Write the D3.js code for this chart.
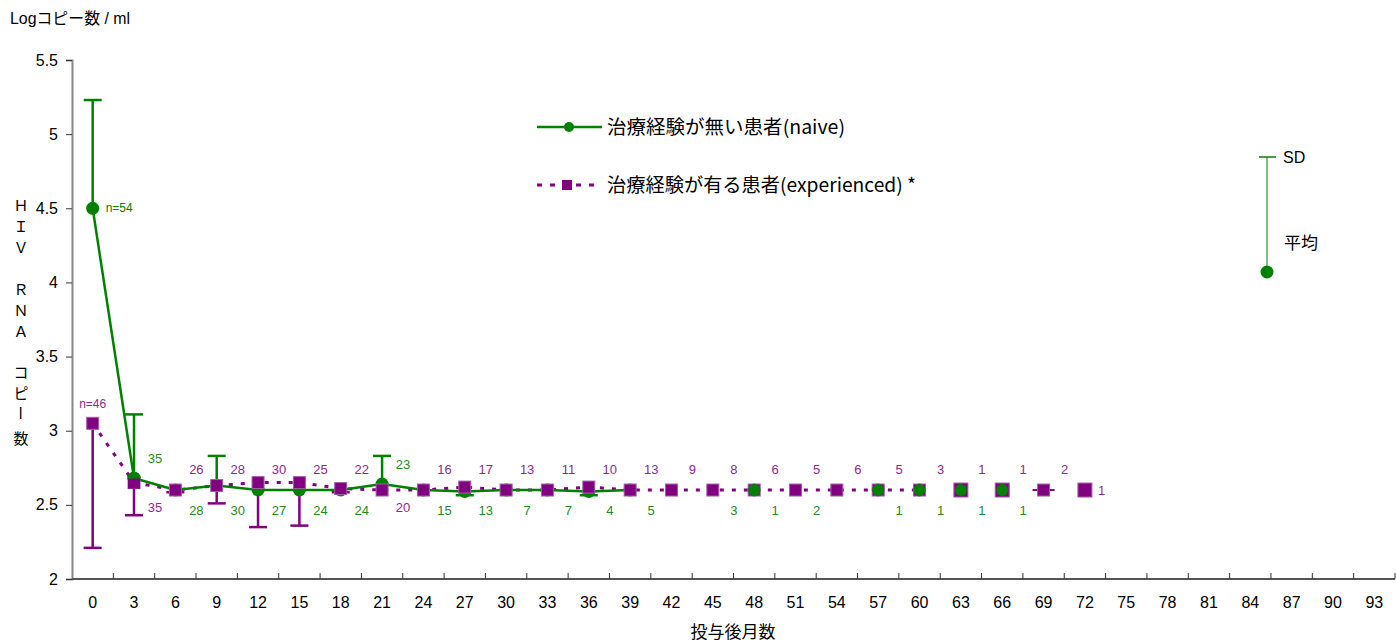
<!DOCTYPE html>
<html><head><meta charset="utf-8">
<script src="https://cdn.jsdelivr.net/npm/d3@7"></script>
<style>
html,body{margin:0;padding:0;background:#fff;}
svg{display:block;font-family:"Liberation Sans",Arial,"Noto Sans CJK JP",sans-serif;}
</style></head>
<body><svg id="c" width="1396" height="642"></svg>
<script>
// ---- data ----
const categories = d3.range(0, 94, 3);           // x-axis categories (months)
const yTicks = [2, 2.5, 3, 3.5, 4, 4.5, 5, 5.5];
const yTickLabels = ["2", "2.5", "3", "3.5", "4", "4.5", "5", "5.5"];
const months = d3.range(0, 73, 3);               // 0..72
const naiveMean = [4.5, 2.68, 2.60, 2.63, 2.60, 2.60, 2.60, 2.64, 2.60, 2.59, 2.60, 2.60, 2.59, 2.60,
                   null, null, 2.60, null, null, 2.60, 2.60, 2.60, 2.60, null, null];
const naiveSDUpper = [5.23, 3.11, null, 2.83, null, null, null, 2.83, null, null, null, null, null, null,
                      null, null, null, null, null, null, null, null, null, null, null];
const naiveSDLower = [null, null, null, null, null, null, null, null, null, 2.565, null, null, 2.565, null,
                      null, null, null, null, null, null, null, null, null, null, null];
const expMean = [3.05, 2.65, 2.60, 2.63, 2.65, 2.65, 2.61, 2.60, 2.60, 2.62, 2.60, 2.60, 2.62, 2.60,
                 2.60, 2.60, 2.60, 2.60, 2.60, 2.60, 2.60, 2.60, 2.60, 2.60, 2.60];
const expSDLower = [2.21, 2.43, 2.585, 2.51, 2.35, 2.36, 2.585, null, null, null, null, null, null, null,
                    null, null, null, null, null, null, null, null, null, null, null];
const naiveLineEnd = 39;
const expLineEnd = 60;
const expBigMarkers = [63, 66, 72];
// n labels
const naiveN = [54, 35, 28, 30, 27, 24, 24, 23, 15, 13, 7, 7, 4, 5, null, 3, 1, 2, null, 1, 1, 1, 1, null, null];
const expN   = [46, 35, 26, 28, 30, 25, 22, 20, 16, 17, 13, 11, 10, 13, 9, 8, 6, 5, 6, 5, 3, 1, 1, 2, 1];
const naiveLabelAbove = [3, 21];
const expLabelBelow = [3, 21];

const legendNames = ["治療経験が無い患者(naive)", "治療経験が有る患者(experienced)  *"];
const xTitle = "投与後月数";
const yUnit = "Logコピー数 / ml";
const yTitleChars = ["Ｈ", "Ｉ", "Ｖ", "", "Ｒ", "Ｎ", "Ａ", "", "コ", "ピ", "ー", "数"];

// ---- layout ----
const GREEN = "#008000", PURPLE = "#800080";
const JP = "'Noto Sans CJK JP',sans-serif";
const NARROW = "'Liberation Sans Narrow','Liberation Sans',Arial,sans-serif";
const svg = d3.select("#c");
const x = d3.scaleBand().domain(categories).range([72, 1395]).paddingInner(0).paddingOuter(0);
const cx = m => x(m) + x.bandwidth() / 2;
const y = d3.scaleLinear().domain([2, 5.5]).range([579, 60]);

// axes
const yAxis = d3.axisLeft(y).tickValues(yTicks).tickFormat((d, i) => yTickLabels[i]).tickSize(6).tickPadding(8);
const gy = svg.append("g").attr("transform", "translate(72,0)").call(yAxis);
gy.select(".domain").attr("stroke", "#888").attr("stroke-width", 2);
gy.selectAll(".tick line").attr("stroke", "#333");
gy.selectAll(".tick text").attr("font-size", 16).attr("fill", "#000").attr("font-family", NARROW);

const gx = svg.append("g").attr("transform", "translate(0,579)");
gx.append("line").attr("x1", 72).attr("x2", 1395).attr("y1", 0).attr("y2", 0).attr("stroke", "#555").attr("stroke-width", 2);
gx.selectAll("line.t").data(categories).join("line").attr("class", "t")
  .attr("x1", d => x(d) + x.bandwidth()).attr("x2", d => x(d) + x.bandwidth())
  .attr("y1", 0).attr("y2", -6).attr("stroke", "#333");
gx.selectAll("text").data(categories).join("text")
  .attr("x", d => cx(d)).attr("y", 29).attr("text-anchor", "middle")
  .attr("font-size", 16).attr("font-family", NARROW)
  .text(d => d);

svg.append("text").attr("x", 733).attr("y", 638).attr("text-anchor", "middle").attr("font-size", 17)
  .attr("font-family", JP).text(xTitle);
svg.append("text").attr("x", 10).attr("y", 24).attr("font-size", 16)
  .attr("textLength", 120).attr("lengthAdjust", "spacingAndGlyphs")
  .attr("font-family", "'Liberation Sans','Noto Sans CJK JP',sans-serif").text(yUnit);

// vertical y title
const tyPos = [204, 225, 246, 0, 288, 309, 330, 0, 371, 392, 413, 437];
yTitleChars.forEach((ch, i) => {
  if (!ch) return;
  const t = svg.append("text").attr("x", 21).attr("y", tyPos[i]).attr("text-anchor", "middle")
    .attr("dominant-baseline", "central").attr("font-size", 15)
    .attr("font-family", JP).text(ch);
  if (ch === "ー") t.attr("transform", `rotate(90,21,${tyPos[i]})`);
});

// build point arrays
const naive = months.map((m, i) => ({m, v: naiveMean[i], up: naiveSDUpper[i], lo: naiveSDLower[i], n: naiveN[i]}));
const exp = months.map((m, i) => ({m, v: expMean[i], lo: expSDLower[i], n: expN[i]}));

const line = d3.line().x(d => cx(d.m)).y(d => y(d.v));

// experienced dashed line
svg.append("path").datum(exp.filter(d => d.m <= expLineEnd))
  .attr("d", line).attr("fill", "none").attr("stroke", PURPLE).attr("stroke-width", 3)
  .attr("stroke-dasharray", "4,8");
// small stubs at 69
exp.filter(d => d.m === 69).forEach(d => {
  svg.append("line").attr("x1", cx(d.m) - 11).attr("x2", cx(d.m) + 11).attr("y1", y(d.v)).attr("y2", y(d.v))
    .attr("stroke", PURPLE).attr("stroke-width", 2);
});

// naive solid line
svg.append("path").datum(naive.filter(d => d.m <= naiveLineEnd && d.v != null))
  .attr("d", line).attr("fill", "none").attr("stroke", GREEN).attr("stroke-width", 2.5);

// error bars
function ebar(m, v0, v1, color, w) {
  svg.append("line").attr("x1", cx(m)).attr("x2", cx(m)).attr("y1", y(v0)).attr("y2", y(v1))
    .attr("stroke", color).attr("stroke-width", w);
  svg.append("line").attr("x1", cx(m) - 9).attr("x2", cx(m) + 9).attr("y1", y(v1)).attr("y2", y(v1))
    .attr("stroke", color).attr("stroke-width", w);
}
naive.forEach(d => { if (d.v != null && d.up != null) ebar(d.m, d.v, d.up, GREEN, 2.5); });
exp.forEach(d => { if (d.lo != null) ebar(d.m, d.v, d.lo, PURPLE, 2.5); });
naive.forEach(d => { if (d.v != null && d.lo != null) ebar(d.m, d.v, d.lo, GREEN, 2.5); });

// naive circles (below squares)
svg.selectAll("circle.nv").data(naive.filter(d => d.v != null)).join("circle").attr("class", "nv")
  .attr("cx", d => cx(d.m)).attr("cy", d => y(d.v)).attr("r", 6.5).attr("fill", GREEN);

// experienced squares
svg.selectAll("rect.ex").data(exp).join("rect").attr("class", "ex")
  .each(function(d) {
    const s = expBigMarkers.includes(d.m) ? 14 : 12;
    d3.select(this).attr("x", cx(d.m) - s / 2).attr("y", y(d.v) - s / 2).attr("width", s).attr("height", s);
  })
  .attr("fill", PURPLE).attr("stroke", "#a060a8").attr("stroke-width", 1);

// naive circles that sit on top of squares (late points)
svg.selectAll("circle.nv2").data(naive.filter(d => d.v != null && d.m >= 48)).join("circle").attr("class", "nv2")
  .attr("cx", d => cx(d.m)).attr("cy", d => y(d.v)).attr("r", 6).attr("fill", GREEN);
// at 3 green on top
svg.selectAll("circle.nv3").data(naive.filter(d => d.m === 3)).join("circle").attr("class", "nv3")
  .attr("cx", d => cx(d.m)).attr("cy", d => y(d.v)).attr("r", 6.5).attr("fill", GREEN);
svg.selectAll("rect.ex3").data(exp.filter(d => d.m === 3)).join("rect").attr("class", "ex3")
  .attr("x", d => cx(d.m) - 6).attr("y", d => y(d.v) - 4).attr("width", 12).attr("height", 10).attr("fill", PURPLE);

// n labels
const lblFont = 13;
naive.forEach(d => {
  if (d.n == null) return;
  if (d.m === 0) {
    svg.append("text").attr("x", cx(d.m) + 13).attr("y", y(d.v)).attr("dy", "0.35em")
      .attr("font-size", 12).attr("fill", GREEN).text("n=" + d.n);
    return;
  }
  const above = naiveLabelAbove.includes(d.m);
  svg.append("text").attr("x", cx(d.m) + 21).attr("y", above ? y(d.v) - 20 : y(2.6) + 20).attr("dy", "0.35em")
    .attr("text-anchor", "middle").attr("font-size", lblFont).attr("fill", "#1f8a1f").text(d.n);
});
exp.forEach(d => {
  if (d.n == null) return;
  if (d.m === 0) {
    svg.append("text").attr("x", cx(d.m)).attr("y", y(d.v) - 20).attr("dy", "0.35em").attr("text-anchor", "middle")
      .attr("font-size", 12).attr("fill", "#8e2a8e").text("n=" + d.n);
    return;
  }
  if (d.m === 72) {
    svg.append("text").attr("x", cx(d.m) + 13).attr("y", y(d.v)).attr("dy", "0.35em")
      .attr("font-size", lblFont).attr("fill", "#8e2a8e").text(d.n);
    return;
  }
  const below = expLabelBelow.includes(d.m);
  svg.append("text").attr("x", cx(d.m) + 21).attr("y", below ? y(2.6) + 17 : y(2.6) - 21).attr("dy", "0.35em")
    .attr("text-anchor", "middle").attr("font-size", lblFont).attr("fill", "#8e2a8e").text(d.n);
});

// legend
const lg = svg.append("g");
lg.append("line").attr("x1", 537).attr("x2", 602).attr("y1", 127).attr("y2", 127).attr("stroke", GREEN).attr("stroke-width", 2.5);
lg.append("circle").attr("cx", 569).attr("cy", 127).attr("r", 5).attr("fill", GREEN);
lg.append("text").attr("x", 607).attr("y", 127).attr("dy", "0.35em").attr("font-size", 19)
  .attr("font-family", JP).attr("textLength", 238).attr("lengthAdjust", "spacingAndGlyphs").text(legendNames[0]);
lg.append("line").attr("x1", 537).attr("x2", 602).attr("y1", 185).attr("y2", 185).attr("stroke", PURPLE).attr("stroke-width", 3)
  .attr("stroke-dasharray", "5,8");
lg.append("rect").attr("x", 562).attr("y", 180).attr("width", 10).attr("height", 10).attr("fill", PURPLE);
lg.append("text").attr("x", 607).attr("y", 185).attr("dy", "0.35em").attr("font-size", 19)
  .attr("font-family", JP).attr("textLength", 309).attr("lengthAdjust", "spacingAndGlyphs").text(legendNames[1]);

// SD / mean key
const kx = 1267;
svg.append("line").attr("x1", kx).attr("x2", kx).attr("y1", 157).attr("y2", 272).attr("stroke", GREEN).attr("stroke-width", 1);
svg.append("line").attr("x1", kx - 8).attr("x2", kx + 9).attr("y1", 157).attr("y2", 157).attr("stroke", GREEN).attr("stroke-width", 1.5);
svg.append("circle").attr("cx", kx).attr("cy", 272).attr("r", 6.5).attr("fill", GREEN);
svg.append("text").attr("x", 1283).attr("y", 157).attr("dy", "0.35em").attr("font-size", 16).text("SD");
svg.append("text").attr("x", 1284).attr("y", 243).attr("dy", "0.35em").attr("font-size", 17)
  .attr("font-family", JP).text("平均");
</script></body></html>
